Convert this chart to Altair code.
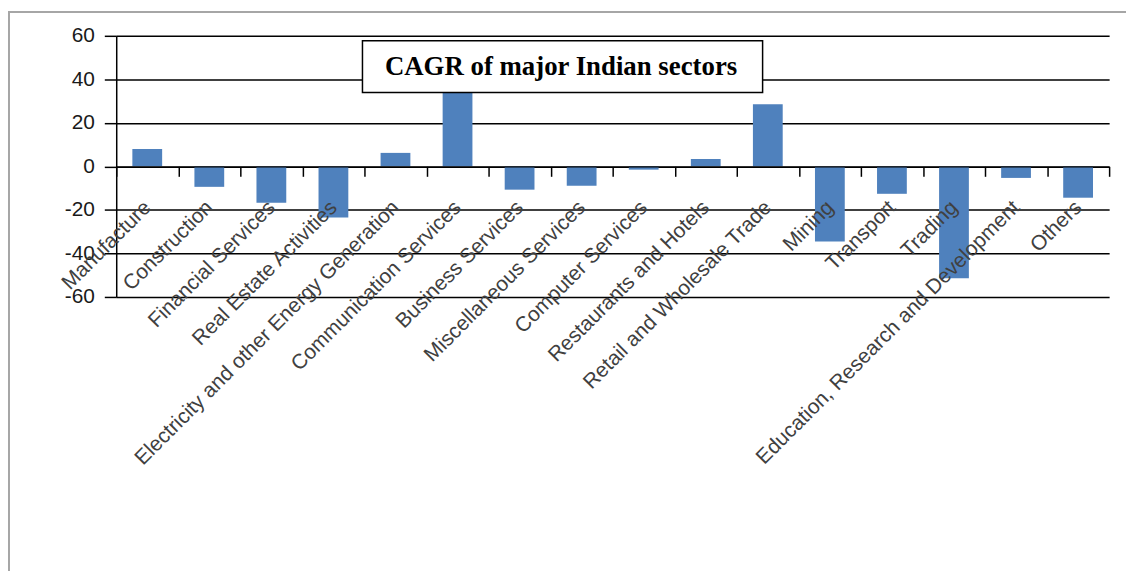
import altair as alt
import pandas as pd

sectors = [
    "Manufacture", "Construction", "Financial Services", "Real Estate Activities",
    "Electricity and other Energy Generation", "Communication Services", "Business Services",
    "Miscellaneous Services", "Computer Services", "Restaurants and Hotels",
    "Retail and Wholesale Trade", "Mining", "Transport", "Trading",
    "Education, Research and Development", "Others",
]
cagr = [8.0, -9.4, -16.7, -23.5, 6.2, 35.0, -10.7, -8.9, -1.5, 3.4, 28.5,
        -34.5, -12.6, -51.4, -5.3, -14.4]
y_ticks = [-60, -40, -20, 0, 20, 40, 60]
title_text = "CAGR of major Indian sectors"

df = pd.DataFrame({"sector": sectors, "cagr": cagr})
one = pd.DataFrame({"k": [0]})

W, H = 1000, 263

bars = alt.Chart(df).mark_bar(color="#4F81BD", size=30).encode(
    x=alt.X(
        "sector:N", sort=sectors,
        scale=alt.Scale(paddingInner=0, paddingOuter=0),
        axis=alt.Axis(
            title=None, offset=-131.5, tickBand="extent", grid=False,
            domainColor="black", domainWidth=1.5, tickColor="black", tickSize=10,
            tickWidth=1.5, labelAngle=-45, labelAlign="right", labelBaseline="middle",
            labelPadding=28, labelFontSize=21, labelFont="Liberation Sans",
            labelColor="#404040", labelLimit=1000, labelOverlap=False, zindex=1,
        ),
    ),
    y=alt.Y(
        "cagr:Q", scale=alt.Scale(domain=[-60, 60], nice=False),
        axis=alt.Axis(
            title=None, values=y_ticks, grid=True, gridColor="black", gridWidth=1.5,
            gridOpacity=1, domainColor="black", domainWidth=1.5, tickColor="black",
            tickSize=12, tickWidth=1.5, labelPadding=10, labelFontSize=21,
            labelFont="Liberation Sans", labelColor="#1a1a1a",
            labelExpr="datum.value + ''",
        ),
    ),
)

border = alt.Chart(one).mark_rect(
    fillOpacity=0, stroke="#A6A6A6", strokeWidth=2, clip=False
).encode(x=alt.value(-108), x2=alt.value(1100), y=alt.value(-24), y2=alt.value(700))

title_box = alt.Chart(one).mark_rect(
    fill="white", stroke="black", strokeWidth=1.5
).encode(x=alt.value(248), x2=alt.value(651), y=alt.value(5), y2=alt.value(57))

title_txt = alt.Chart(one).mark_text(
    font="Liberation Serif", fontSize=27, fontWeight="bold", color="black",
    align="center", baseline="alphabetic"
).encode(x=alt.value(448), y=alt.value(39), text=alt.value(title_text))

chart = alt.layer(border, bars, title_box, title_txt).properties(
    width=W, height=H,
    autosize=alt.AutoSizeParams(type="none"),
    padding={"left": 109, "top": 26, "right": 17, "bottom": 274},
).configure_view(strokeWidth=0)

chart.save("out.html", embed_options={"renderer": "svg", "actions": False})
